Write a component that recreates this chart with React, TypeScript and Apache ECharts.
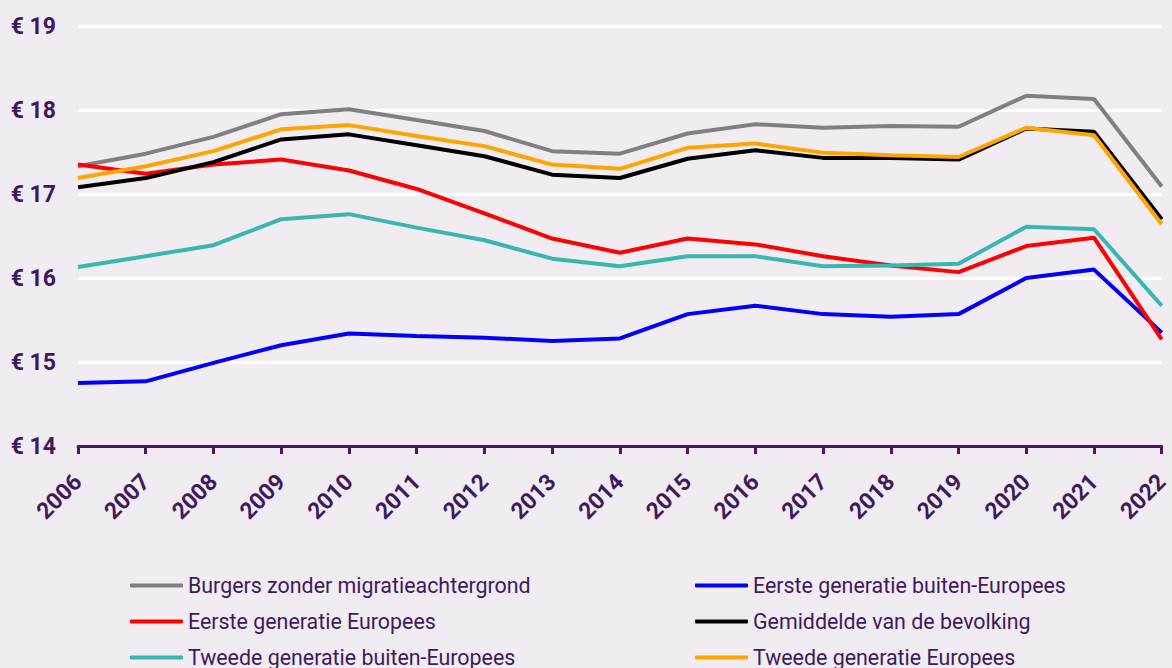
import React, { useEffect, useRef } from "react";
import * as echarts from "echarts";

const years = ["2006","2007","2008","2009","2010","2011","2012","2013","2014","2015","2016","2017","2018","2019","2020","2021","2022"];

const burgers = [17.33, 17.48, 17.68, 17.95, 18.01, 17.88, 17.75, 17.51, 17.48, 17.72, 17.83, 17.79, 17.81, 17.80, 18.17, 18.13, 17.09];
const eersteBuiten = [14.75, 14.77, 14.99, 15.20, 15.34, 15.31, 15.29, 15.25, 15.28, 15.57, 15.67, 15.57, 15.54, 15.57, 16.00, 16.10, 15.35];
const eersteEuropees = [17.35, 17.24, 17.35, 17.41, 17.28, 17.06, 16.77, 16.47, 16.30, 16.47, 16.40, 16.26, 16.15, 16.07, 16.38, 16.48, 15.27];
const gemiddelde = [17.08, 17.19, 17.38, 17.65, 17.71, 17.58, 17.45, 17.23, 17.19, 17.42, 17.52, 17.43, 17.43, 17.41, 17.78, 17.74, 16.70];
const tweedeBuiten = [16.13, 16.26, 16.39, 16.70, 16.76, 16.60, 16.45, 16.23, 16.14, 16.26, 16.26, 16.14, 16.15, 16.17, 16.61, 16.58, 15.67];
const tweedeEuropees = [17.19, 17.33, 17.51, 17.77, 17.82, 17.69, 17.57, 17.35, 17.30, 17.55, 17.60, 17.49, 17.46, 17.44, 17.79, 17.70, 16.64];

const seriesDefs = [
  { name: "Burgers zonder migratieachtergrond", data: burgers, color: "#808080" },
  { name: "Eerste generatie buiten-Europees", data: eersteBuiten, color: "#0000FF" },
  { name: "Eerste generatie Europees", data: eersteEuropees, color: "#FF0000" },
  { name: "Gemiddelde van de bevolking", data: gemiddelde, color: "#000000" },
  { name: "Tweede generatie buiten-Europees", data: tweedeBuiten, color: "#38B6B0" },
  { name: "Tweede generatie Europees", data: tweedeEuropees, color: "#FFA500" },
];

const TEXT = "#3E1A5C";
const AXIS = "#4A1768";
const FONT = "Roboto";

export default function App() {
  const ref = useRef<HTMLDivElement>(null);
  useEffect(() => {
    if (!ref.current) return;
    const chart = echarts.init(ref.current, undefined, { renderer: "svg" });
    const legendBase = {
      orient: "horizontal" as const,
      itemWidth: 53,
      itemHeight: 4,
      padding: 0,
      icon: "roundRect",
      textStyle: { color: TEXT, fontSize: 21.4, fontFamily: FONT, lineHeight: 21 },
      selectedMode: false,
    };
    const legendPos = [
      { left: 130, top: 575 },
      { left: 695, top: 575 },
      { left: 130, top: 611 },
      { left: 695, top: 611 },
      { left: 130, top: 647 },
      { left: 695, top: 647 },
    ];
    chart.setOption({
      animation: false,
      backgroundColor: "#F1ECF2",
      grid: { left: 78, right: 7, top: 26, bottom: 222, containLabel: false },
      legend: seriesDefs.map((s, i) => ({
        ...legendBase,
        ...legendPos[i],
        data: [s.name],
      })),
      xAxis: {
        type: "category",
        data: years,
        boundaryGap: false,
        axisLine: { lineStyle: { color: AXIS, width: 3 } },
        axisTick: { show: true, length: 8, lineStyle: { color: AXIS, width: 3 } },
        axisLabel: {
          rotate: 45,
          color: TEXT,
          fontSize: 23,
          fontWeight: "bold",
          fontFamily: FONT,
          margin: 32,
          interval: 0,
        },
        splitLine: { show: false },
      },
      yAxis: {
        type: "value",
        min: 14,
        max: 19,
        interval: 1,
        axisLine: { show: false },
        axisTick: { show: false },
        axisLabel: {
          color: TEXT,
          fontSize: 23,
          fontWeight: "bold",
          fontFamily: FONT,
          margin: 22,
          formatter: (v: number) => "€ " + v,
        },
        splitLine: { lineStyle: { color: "#FFFFFF", width: 3 } },
      },
      series: seriesDefs.map((s) => ({
        name: s.name,
        type: "line",
        data: s.data,
        symbol: "none",
        color: s.color,
        lineStyle: { color: s.color, width: 4 },
        itemStyle: { color: s.color },
      })),
    });
    return () => chart.dispose();
  }, []);
  return <div ref={ref} style={{ width: 1172, height: 668, position: "absolute", left: 0, top: 0 }} />;
}
